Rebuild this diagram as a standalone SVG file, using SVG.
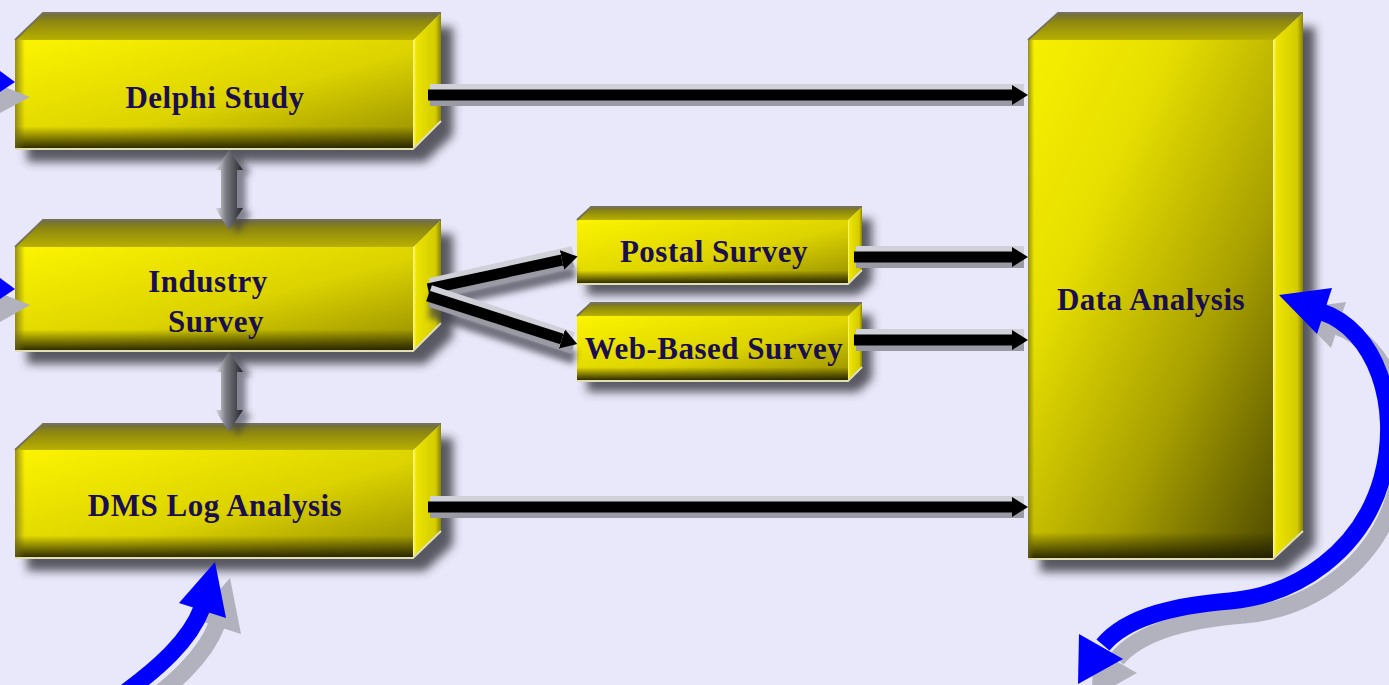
<svg xmlns="http://www.w3.org/2000/svg" width="1389" height="685" viewBox="0 0 1389 685">
<style>
.lbl{font-family:"Liberation Serif","Times New Roman",serif;font-weight:bold;font-size:31px;letter-spacing:0.5px;fill:#1b0e4e;text-anchor:middle}
.shd{fill:#34343e;opacity:.8;filter:url(#bl5)}
.top{fill:url(#gTop)}
.side{fill:url(#gSide)}
.front{fill:url(#gFront)}
.bot{fill:url(#gBot)}
.lft{fill:url(#gLeft)}
.hl{fill:none;stroke:#e2dfb4;stroke-width:2}
.tl{fill:none;stroke:#77735a;stroke-width:2}
.cs{fill:none;stroke:#3c3c48;stroke-width:13;opacity:.7;filter:url(#bl3)}
.cu{fill:none;stroke:#d0d0d8;stroke-width:12}
.cd{fill:none;stroke:#9a9aa4;stroke-width:12}
.ck{fill:none;stroke:#000;stroke-width:11}
.va{fill:url(#gV)}
.vs{fill:#3c3c48;opacity:.6;filter:url(#bl3)}
.bs{fill:none;stroke:#0000ff;stroke-width:17}
.bh{fill:#0000ff}
.gs{fill:none;stroke:#b2b2be;stroke-width:17}
.gh{fill:#b2b2be}
</style>
<defs>
<filter id="bl5" x="-20%" y="-40%" width="140%" height="180%"><feGaussianBlur stdDeviation="5"/></filter>
<filter id="bl3" x="-20%" y="-100%" width="140%" height="300%"><feGaussianBlur stdDeviation="3"/></filter>
<linearGradient id="gFront" x1="0" y1="0" x2="1" y2="1">
<stop offset="0" stop-color="#fcf400"/><stop offset="0.55" stop-color="#dcd300"/><stop offset="1" stop-color="#958d00"/>
</linearGradient>
<linearGradient id="gData" x1="0" y1="0" x2="1" y2="1">
<stop offset="0" stop-color="#f8f000"/><stop offset="0.3" stop-color="#e6de00"/><stop offset="0.65" stop-color="#a8a000"/><stop offset="1" stop-color="#4e4a00"/>
</linearGradient>
<linearGradient id="gBot" x1="0" y1="0" x2="0" y2="1">
<stop offset="0.8" stop-color="#1e1c00" stop-opacity="0"/><stop offset="1" stop-color="#1e1c00" stop-opacity="0.9"/>
</linearGradient>
<linearGradient id="gBotD" x1="0" y1="0" x2="0" y2="1">
<stop offset="0.95" stop-color="#1e1c00" stop-opacity="0"/><stop offset="1" stop-color="#1e1c00" stop-opacity="0.9"/>
</linearGradient>
<linearGradient id="gLeft" x1="0" y1="0" x2="1" y2="0">
<stop offset="0" stop-color="#6a6420" stop-opacity="0.7"/><stop offset="0.025" stop-color="#6a6420" stop-opacity="0"/>
</linearGradient>
<linearGradient id="gTop" x1="0" y1="0" x2="0" y2="1">
<stop offset="0" stop-color="#6e6a48"/><stop offset="0.3" stop-color="#8c8610"/><stop offset="1" stop-color="#b8b000"/>
</linearGradient>
<linearGradient id="gSide" x1="0" y1="0" x2="1" y2="0">
<stop offset="0" stop-color="#fff890"/><stop offset="0.12" stop-color="#ece400"/><stop offset="0.8" stop-color="#d4cc00"/><stop offset="1" stop-color="#8a8400"/>
</linearGradient>
<linearGradient id="gV" x1="0" y1="0" x2="1" y2="0">
<stop offset="0" stop-color="#e6e6ee"/><stop offset="0.4" stop-color="#7a7a82"/><stop offset="1" stop-color="#26262c"/>
</linearGradient>
<marker id="ah" markerUnits="userSpaceOnUse" markerWidth="18" markerHeight="20" refX="0" refY="10" orient="auto">
<path d="M0,0 L16,10 L0,20 z" fill="#000"/>
</marker>
</defs>
<rect width="1389" height="685" fill="#e8e8fa"/>

<g id="delphi">
<polygon class="shd" points="15,40 43,13 441,13 441,121 413,148 15,148" transform="translate(12,14)"/>
<polygon class="top" points="15,40 43,13 441,13 413,40"/>
<polygon class="side" points="413,40 441,13 441,121 413,148"/>
<rect class="front" x="15" y="40" width="398" height="108"/>
<rect class="bot" x="15" y="40" width="398" height="108"/>
<rect class="lft" x="15" y="40" width="398" height="108"/>
<polyline class="tl" points="15,40 43,13 441,13"/>
<polyline class="hl" points="15,149 413,149 441,121"/>
<text class="lbl" x="215" y="108">Delphi Study</text>
</g>

<g id="industry">
<polygon class="shd" points="15,247 43,220 441,220 441,323 413,350 15,350" transform="translate(12,14)"/>
<polygon class="top" points="15,247 43,220 441,220 413,247"/>
<polygon class="side" points="413,247 441,220 441,323 413,350"/>
<rect class="front" x="15" y="247" width="398" height="103"/>
<rect class="bot" x="15" y="247" width="398" height="103"/>
<rect class="lft" x="15" y="247" width="398" height="103"/>
<polyline class="tl" points="15,247 43,220 441,220"/>
<polyline class="hl" points="15,351 413,351 441,323"/>
<text class="lbl" x="208" y="292">Industry</text>
<text class="lbl" x="216" y="332">Survey</text>
</g>

<g id="dms">
<polygon class="shd" points="15,450 43,424 441,424 441,531 413,557 15,557" transform="translate(12,14)"/>
<polygon class="top" points="15,450 43,424 441,424 413,450"/>
<polygon class="side" points="413,450 441,424 441,531 413,557"/>
<rect class="front" x="15" y="450" width="398" height="107"/>
<rect class="bot" x="15" y="450" width="398" height="107"/>
<rect class="lft" x="15" y="450" width="398" height="107"/>
<polyline class="tl" points="15,450 43,424 441,424"/>
<polyline class="hl" points="15,558 413,558 441,531"/>
<text class="lbl" x="215" y="516">DMS Log Analysis</text>
</g>

<g id="postal">
<polygon class="shd" points="577,220 591,207 862,207 862,270 848,283 577,283" transform="translate(10,12)"/>
<polygon class="top" points="577,220 591,207 862,207 848,220"/>
<polygon class="side" points="848,220 862,207 862,270 848,283"/>
<rect class="front" x="577" y="220" width="271" height="63"/>
<rect class="bot" x="577" y="220" width="271" height="63"/>
<polyline class="tl" points="577,220 591,207 862,207"/>
<polyline class="hl" points="577,284 848,284 862,270"/>
<text class="lbl" x="714" y="262">Postal Survey</text>
</g>

<g id="web">
<polygon class="shd" points="577,316 591,303 862,303 862,367 848,380 577,380" transform="translate(10,12)"/>
<polygon class="top" points="577,316 591,303 862,303 848,316"/>
<polygon class="side" points="848,316 862,303 862,367 848,380"/>
<rect class="front" x="577" y="316" width="271" height="64"/>
<rect class="bot" x="577" y="316" width="271" height="64"/>
<polyline class="tl" points="577,316 591,303 862,303"/>
<polyline class="hl" points="577,381 848,381 862,367"/>
<text class="lbl" x="714" y="359">Web-Based Survey</text>
</g>

<g id="data">
<polygon class="shd" points="1028,40 1058,13 1303,13 1303,531 1273,558 1028,558" transform="translate(12,14)"/>
<polygon class="top" points="1028,40 1058,13 1303,13 1273,40"/>
<polygon class="side" points="1273,40 1303,13 1303,531 1273,558"/>
<rect x="1028" y="40" width="245" height="518" fill="url(#gData)"/>
<rect x="1028" y="40" width="245" height="518" fill="url(#gBotD)"/>
<rect class="lft" x="1028" y="40" width="245" height="518"/>
<polyline class="tl" points="1028,40 1058,13 1303,13"/>
<polyline class="hl" points="1028,559 1273,559 1303,531"/>
<text class="lbl" x="1151" y="310">Data Analysis</text>
</g>

<g id="connectors">
<g id="c-delphi-data">
<path class="cs" d="M430,95 L1026,95" transform="translate(0,15)"/>
<path class="cu" d="M430,95 L1024,95" transform="translate(0,-5)"/>
<path class="cd" d="M430,95 L1024,95" transform="translate(0,5)"/>
<path class="ck" d="M428,95 L1012,95" marker-end="url(#ah)"/>
</g>
<g id="c-postal-data">
<path class="cs" d="M856,257 L1026,257" transform="translate(0,15)"/>
<path class="cu" d="M856,257 L1024,257" transform="translate(0,-5)"/>
<path class="cd" d="M856,257 L1024,257" transform="translate(0,5)"/>
<path class="ck" d="M854,257 L1012,257" marker-end="url(#ah)"/>
</g>
<g id="c-web-data">
<path class="cs" d="M856,340 L1026,340" transform="translate(0,15)"/>
<path class="cu" d="M856,340 L1024,340" transform="translate(0,-5)"/>
<path class="cd" d="M856,340 L1024,340" transform="translate(0,5)"/>
<path class="ck" d="M854,340 L1012,340" marker-end="url(#ah)"/>
</g>
<g id="c-dms-data">
<path class="cs" d="M430,507 L1026,507" transform="translate(0,15)"/>
<path class="cu" d="M430,507 L1024,507" transform="translate(0,-5)"/>
<path class="cd" d="M430,507 L1024,507" transform="translate(0,5)"/>
<path class="ck" d="M428,507 L1012,507" marker-end="url(#ah)"/>
</g>
<g id="c-industry-postal">
<path class="cs" d="M430,289 L575,257" transform="translate(0,15)"/>
<path class="cu" d="M430,289 L573,257" transform="translate(0,-5)"/>
<path class="cd" d="M430,289 L573,257" transform="translate(0,5)"/>
<path class="ck" d="M428,289 L562,260" marker-end="url(#ah)"/>
</g>
<g id="c-industry-web">
<path class="cs" d="M430,296 L575,343" transform="translate(0,15)"/>
<path class="cu" d="M430,296 L573,343" transform="translate(0,-5)"/>
<path class="cd" d="M430,296 L573,343" transform="translate(0,5)"/>
<path class="ck" d="M428,296 L562,339" marker-end="url(#ah)"/>
</g>
<g id="c-delphi-industry">
<polygon class="vs" points="229,150 243,170 237,170 237,208 243,208 229,230 215,208 221,208 221,170 215,170" transform="translate(9,4)"/>
<polygon class="va" points="229,150 243,170 237,170 237,208 243,208 229,230 215,208 221,208 221,170 215,170"/>
</g>
<g id="c-industry-dms">
<polygon class="vs" points="229,352 243,372 237,372 237,410 243,410 229,432 215,410 221,410 221,372 215,372" transform="translate(9,4)"/>
<polygon class="va" points="229,352 243,372 237,372 237,410 243,410 229,432 215,410 221,410 221,372 215,372"/>
</g>
<g id="loop-left">
<polygon class="gh" points="0,85 30,97 0,113"/>
<polygon class="bh" points="0,71 15,82 0,92"/>
<polygon class="gh" points="0,293 30,305 0,322"/>
<polygon class="bh" points="0,278 15,289 0,299"/>
</g>
<g id="loop-bottom">
<g transform="translate(15,16)">
<path class="gs" d="M112,702 C160,668 190,640 202,608"/>
<polygon class="gh" points="215,562 179,603 226,618"/>
</g>
<path class="bs" d="M112,702 C160,668 190,640 202,608"/>
<polygon class="bh" points="215,562 179,603 226,618"/>
</g>
<g id="loop-right">
<g transform="translate(14,14)">
<path class="gs" d="M1322,312 C1375,330 1402,405 1382,478 C1362,550 1298,595 1230,601 C1180,605 1128,615 1103,645"/>
<polygon class="gh" points="1279,295 1332,288 1317,334"/>
<polygon class="gh" points="1078,684 1079,634 1123,659"/>
</g>
<path class="bs" d="M1322,312 C1375,330 1402,405 1382,478 C1362,550 1298,595 1230,601 C1180,605 1128,615 1103,645"/>
<polygon class="bh" points="1279,295 1332,288 1317,334"/>
<polygon class="bh" points="1078,684 1079,634 1123,659"/>
</g>
</g>
</svg>
